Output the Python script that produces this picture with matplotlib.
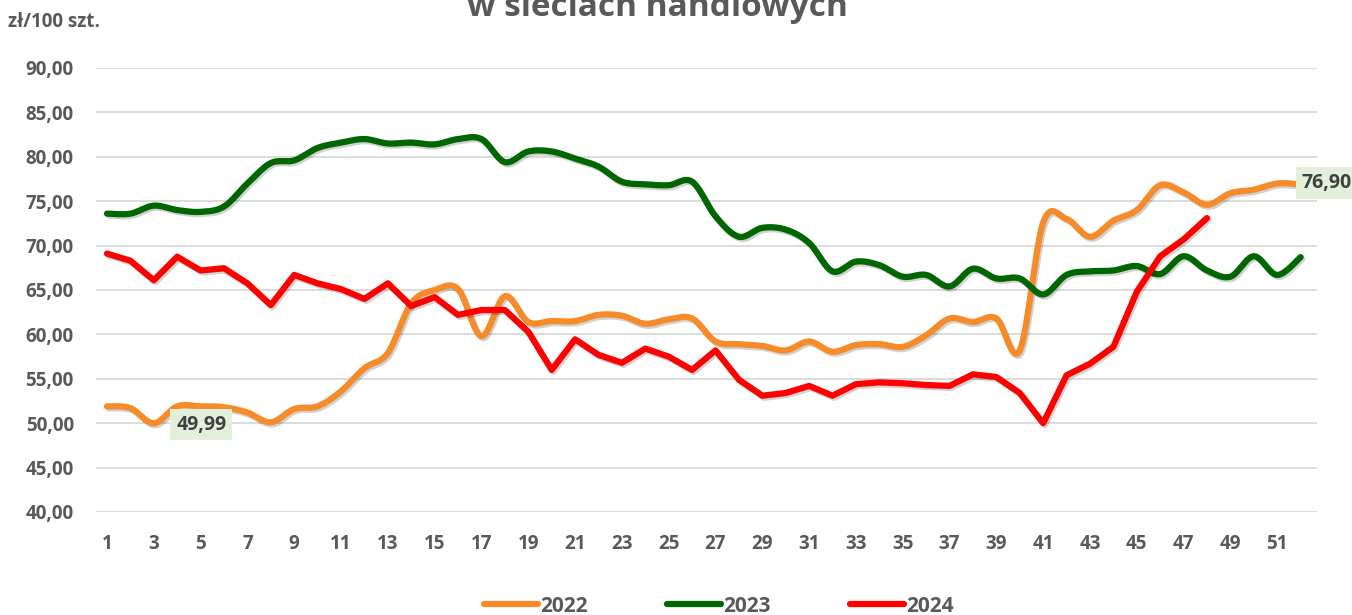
import numpy as np
import matplotlib
matplotlib.use("Agg")
import matplotlib.pyplot as plt
import matplotlib.patheffects as pe
from matplotlib.lines import Line2D
from matplotlib.ticker import FuncFormatter

# tygodnie i ceny (zł/100 szt.)
weeks = list(range(1, 53))
y2022 = [51.9, 51.7, 49.99, 51.9, 51.9, 51.8, 51.2, 50.1, 51.6, 51.9,
         53.6, 56.2, 57.9, 63.5, 65.0, 65.1, 59.8, 64.3, 61.4, 61.5,
         61.5, 62.2, 62.1, 61.2, 61.7, 61.8, 59.2, 58.9, 58.7, 58.2,
         59.2, 58.05, 58.8, 58.9, 58.6, 59.9, 61.8, 61.4, 61.8, 58.2,
         72.6, 73.0, 71.0, 72.8, 74.0, 76.8, 76.0, 74.6, 75.9, 76.3,
         77.0, 76.9]
y2023 = [73.6, 73.6, 74.5, 74.0, 73.8, 74.4, 77.0, 79.3, 79.6, 81.0,
         81.6, 82.0, 81.5, 81.6, 81.4, 82.0, 82.0, 79.4, 80.6, 80.6,
         79.8, 78.9, 77.2, 76.9, 76.8, 77.2, 73.3, 71.0, 72.0, 71.8,
         70.3, 67.1, 68.2, 67.8, 66.5, 66.7, 65.4, 67.4, 66.3, 66.3,
         64.5, 66.7, 67.1, 67.2, 67.7, 66.8, 68.8, 67.2, 66.5, 68.8,
         66.7, 68.7]
y2024 = [69.1, 68.3, 66.1, 68.75, 67.2, 67.45, 65.75, 63.3, 66.7, 65.75,
         65.1, 64.0, 65.75, 63.2, 64.2, 62.2, 62.75, 62.75, 60.3, 56.0,
         59.45, 57.7, 56.8, 58.4, 57.5, 56.0, 58.2, 54.9, 53.1, 53.4,
         54.2, 53.1, 54.4, 54.6, 54.5, 54.3, 54.2, 55.5, 55.2, 53.4,
         50.0, 55.4, 56.7, 58.6, 64.8, 68.8, 70.7, 73.1]
labels = ["2022", "2023", "2024"]
colors = ["#F68B2A", "#006600", "#FF0000"]

GREY = "#595959"
plt.rcParams["font.family"] = ["Open Sans", "DejaVu Sans"]
plt.rcParams["font.weight"] = "bold"


def smooth(x, y, n=20):
    # wygładzenie jak w Excelu (krzywe Beziera, Catmull-Rom)
    x = np.asarray(x, float)
    y = np.asarray(y, float)
    px = np.concatenate([[x[0]], x, [x[-1]]])
    py = np.concatenate([[y[0]], y, [y[-1]]])
    xs, ys = [], []
    t = np.linspace(0, 1, n, endpoint=False)
    for i in range(1, len(px) - 2):
        p0 = np.array([px[i], py[i]])
        p3 = np.array([px[i + 1], py[i + 1]])
        p1 = p0 + (p3 - np.array([px[i - 1], py[i - 1]])) / 6
        p2 = p3 - (np.array([px[i + 2], py[i + 2]]) - p0) / 6
        b = ((1 - t) ** 3)[:, None] * p0 + (3 * (1 - t) ** 2 * t)[:, None] * p1 \
            + (3 * (1 - t) * t ** 2)[:, None] * p2 + (t ** 3)[:, None] * p3
        xs.extend(b[:, 0])
        ys.extend(b[:, 1])
    xs.append(x[-1])
    ys.append(y[-1])
    return xs, ys


fig = plt.figure(figsize=(13.52, 6.15), dpi=100)
ax = fig.add_axes([96 / 1352, 1 - 512 / 615, (1317 - 96) / 1352, (512 - 68) / 615])

shadow = [pe.SimpleLineShadow(offset=(1.2, -1.5), alpha=0.18, shadow_color="black"), pe.Normal()]

sx, sy = smooth(weeks, y2022)
ax.plot(sx, sy, color=colors[0], lw=4.5, solid_capstyle="round", path_effects=shadow, zorder=3)
sx, sy = smooth(weeks, y2023)
ax.plot(sx, sy, color=colors[1], lw=4.5, solid_capstyle="round", path_effects=shadow, zorder=3)
ax.plot(weeks[:len(y2024)], y2024, color=colors[2], lw=4.5, solid_capstyle="round",
        solid_joinstyle="round", path_effects=shadow, zorder=4)

ax.set_xlim(0.53, 52.7)
ax.set_ylim(40, 90)
ax.set_yticks(np.arange(40, 91, 5))
ax.set_xticks(range(1, 53, 2))
ax.yaxis.set_major_formatter(FuncFormatter(lambda v, p: f"{v:.2f}".replace(".", ",")))
ax.grid(axis="y", color="#D9D9D9", lw=1.3)
ax.set_axisbelow(True)
for s in ax.spines.values():
    s.set_visible(False)
ax.tick_params(length=0, labelsize=13.5, labelcolor=GREY)
ax.tick_params(axis="y", pad=16)
ax.tick_params(axis="x", pad=16)

box = dict(boxstyle="square,pad=0.3", fc="#E2EFDA", ec="none")
ax.text(5.03, 49.85, "49,99", ha="center", va="center", fontsize=14, color="#404040",
        fontweight="bold", bbox=box, zorder=5)
ax.text(52.05, 77.05, "76,90", ha="left", va="center", fontsize=14, color="#404040",
        fontweight="bold", bbox=box, zorder=5, clip_on=False)

fig.text(0.4863, 1 - 16 / 615, "w sieciach handlowych", ha="center", va="baseline",
         fontsize=24, color=GREY, fontweight="bold")
fig.text(8 / 1352, 1 - 22 / 615, "zł/100 szt.", ha="left", va="center",
         fontsize=13.5, color=GREY, fontweight="bold")

handles = [Line2D([], [], color=c, lw=4.5, solid_capstyle="round") for c in colors]
fig.legend(handles, labels, loc="center", bbox_to_anchor=(719 / 1352, 1 - 606 / 615),
           ncol=3, frameon=False, handlelength=2.6, handletextpad=0.1,
           columnspacing=3.8, labelcolor=GREY, prop={"weight": "bold", "size": 15})

fig.savefig("out.png", dpi=100)
